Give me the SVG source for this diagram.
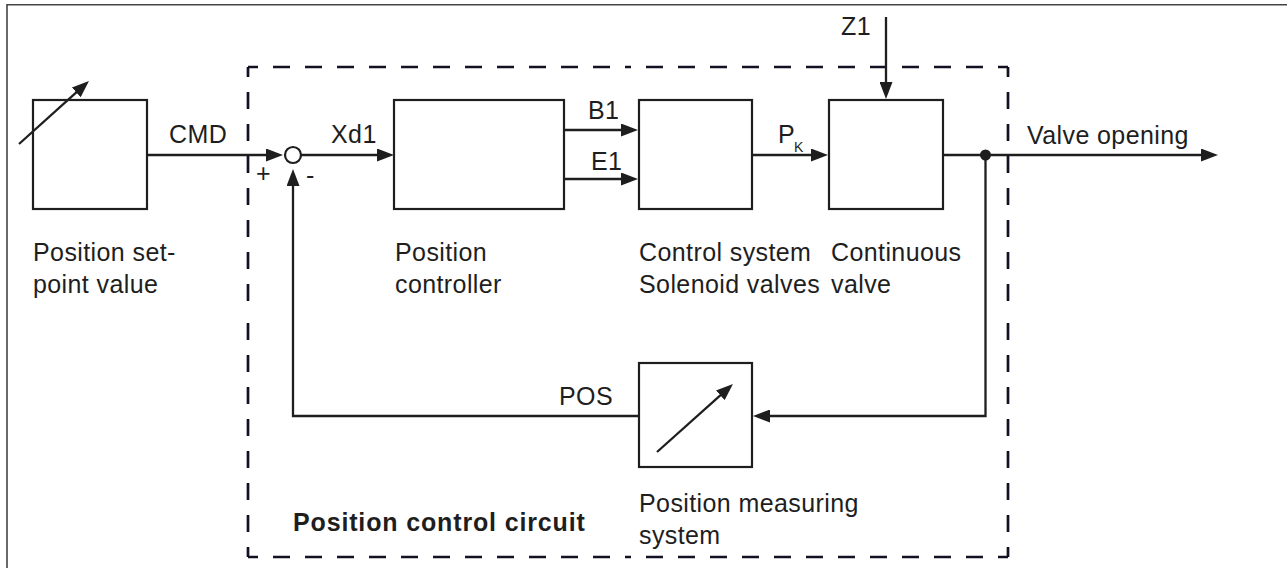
<svg xmlns="http://www.w3.org/2000/svg" width="1287" height="568" viewBox="0 0 1287 568">
<style>
text{font-family:"Liberation Sans",Arial,Helvetica,sans-serif;font-size:25px;fill:#1e1e1e;letter-spacing:0.4px}
.b{font-weight:bold;letter-spacing:0.85px}
.sub{font-size:14px;letter-spacing:0}
.box{fill:none;stroke:#1e1e1e;stroke-width:2.2}
.ln{fill:none;stroke:#1e1e1e;stroke-width:2.3}
.arr{marker-end:url(#ah)}
.dash{stroke:#111122;stroke-width:2.7;stroke-dasharray:17 15;stroke-dashoffset:7;fill:none}
.frame{stroke:#444;stroke-width:1.6;fill:none}
</style>
<defs>
<marker id="ah" markerWidth="17" markerHeight="13" refX="9" refY="6.5" orient="auto" markerUnits="userSpaceOnUse">
<path d="M0,0 L17,6.5 L0,13 z" fill="#1e1e1e"/>
</marker>
</defs>
<rect width="1287" height="568" fill="#fff"/>
<g id="frame">
<path class="frame" d="M7,568 V4.7 H1287"/>
</g>
<g id="circuit-boundary">
<line class="dash" x1="248" y1="67" x2="248" y2="312"/>
<line class="dash" x1="248" y1="557" x2="248" y2="312"/>
<line class="dash" x1="248" y1="67" x2="628" y2="67"/>
<line class="dash" x1="1008" y1="67" x2="628" y2="67"/>
<line class="dash" x1="1008" y1="67" x2="1008" y2="312"/>
<line class="dash" x1="1008" y1="557" x2="1008" y2="312"/>
<line class="dash" x1="248" y1="557" x2="628" y2="557"/>
<line class="dash" x1="1008" y1="557" x2="628" y2="557"/>
<text class="b" x="293" y="531">Position control circuit</text>
</g>
<g id="setpoint">
<rect class="box" x="33" y="100" width="114" height="109"/>
<line class="ln arr" x1="19" y1="144" x2="83" y2="86.4"/>
<text x="33" y="261">Position set-</text>
<text x="33" y="293">point value</text>
</g>
<g id="summing">
<circle cx="293" cy="155" r="8" fill="#fff" stroke="#1e1e1e" stroke-width="2.2"/>
<text x="256" y="182">+</text>
<text x="306" y="184">-</text>
</g>
<g id="controller">
<rect class="box" x="394" y="100" width="170" height="109"/>
<text x="395" y="261">Position</text>
<text x="395" y="293">controller</text>
</g>
<g id="solenoid">
<rect class="box" x="639" y="100" width="113" height="109"/>
<text x="639" y="261">Control system</text>
<text x="639" y="293">Solenoid valves</text>
</g>
<g id="valve">
<rect class="box" x="829" y="100" width="114" height="109"/>
<text x="831" y="261">Continuous</text>
<text x="831" y="293">valve</text>
</g>
<g id="measuring">
<rect class="box" x="639" y="363" width="113" height="104"/>
<line class="ln arr" x1="657" y1="452" x2="727" y2="389.3"/>
<text x="639" y="512">Position measuring</text>
<text x="639" y="544">system</text>
</g>
<g id="connectors">
<path class="ln arr" d="M147,155 H275"/>
<text x="169" y="143">CMD</text>
<path class="ln arr" d="M301,155 H386"/>
<text x="331" y="143">Xd1</text>
<path class="ln arr" d="M564,130 H630"/>
<text x="588" y="119">B1</text>
<path class="ln arr" d="M564,179 H630"/>
<text x="591" y="170">E1</text>
<path class="ln arr" d="M752,155 H820"/>
<text x="778" y="143">P</text>
<text class="sub" x="794" y="152">K</text>
<path class="ln arr" d="M886,17 V91"/>
<text x="841" y="35">Z1</text>
<path class="ln arr" d="M943,155 H1210"/>
<text x="1027" y="144">Valve opening</text>
<circle cx="985.5" cy="155" r="5.5" fill="#1e1e1e"/>
<path class="ln arr" d="M985.5,155 V416 H761"/>
<path class="ln arr" d="M639,416 H293 V177"/>
<text x="559" y="405">POS</text>
</g>
</svg>
